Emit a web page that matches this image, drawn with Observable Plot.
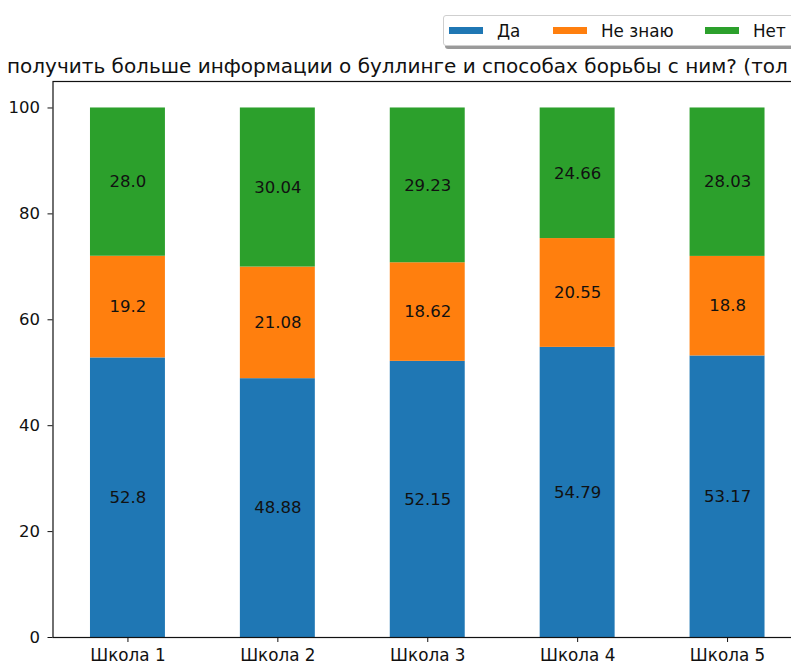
<!DOCTYPE html>
<html>
<head>
<meta charset="utf-8">
<script src="https://cdn.jsdelivr.net/npm/d3@7"></script>
<script src="https://cdn.jsdelivr.net/npm/@observablehq/plot@0.6"></script>
<style>
  html, body { margin: 0; padding: 0; background: #fff; overflow: hidden; }
  #wrap { position: relative; width: 791px; height: 664px; overflow: hidden; font-family: "DejaVu Sans", sans-serif; }
  #title { position: absolute; left: 7px; top: 54px; font-size: 20px; white-space: nowrap; color: #111; line-height: 24px; }
  #legend { position: absolute; left: 443px; top: 15px; width: 360px; height: 29px; border: 1px solid #cfcfcf; border-radius: 3px; background: #fff; box-shadow: 2px 3px 0 #9a9a9a; }
  .item { position: absolute; top: 0; height: 29px; display: flex; align-items: center; font-size: 16.8px; color: #111; }
  .sw { width: 34px; height: 7px; margin-right: 14px; }
  svg { overflow: hidden; }
</style>
</head>
<body>
<div id="wrap">
  <div id="chart"></div>
  <div id="title"></div>
  <div id="legend"></div>
</div>
<script>
const schools = ["Школа 1", "Школа 2", "Школа 3", "Школа 4", "Школа 5"];
const seriesNames = ["Да", "Не знаю", "Нет"];
const seriesColors = ["#1f77b4", "#ff7f0e", "#2ca02c"];
const valuesDa = [52.8, 48.88, 52.15, 54.79, 53.17];
const valuesNeZnayu = [19.2, 21.08, 18.62, 20.55, 18.8];
const valuesNet = [28.0, 30.04, 29.23, 24.66, 28.03];
const yTicks = [0, 20, 40, 60, 80, 100];
const titleText = "получить больше информации о буллинге и способах борьбы с ним? (тол";

const seriesValues = [valuesDa, valuesNeZnayu, valuesNet];
const data = [];
seriesNames.forEach((s, i) => {
  schools.forEach((sc, j) => data.push({school: sc, series: s, value: seriesValues[i][j]}));
});
const fmt = v => Number.isInteger(v) ? v.toFixed(1) : String(v);

const plot = Plot.plot({
  width: 791,
  height: 664,
  marginTop: 81,
  marginBottom: 27,
  marginLeft: 52.5,
  marginRight: -11,
  style: {fontFamily: "DejaVu Sans, sans-serif", fontSize: "16.5px", color: "#111", background: "transparent"},
  x: {domain: schools, paddingInner: 0.5, paddingOuter: 0.25, round: false, label: null},
  y: {domain: [0, 105], label: null},
  color: {domain: seriesNames, range: seriesColors},
  marks: [
    Plot.barY(data, Plot.stackY({x: "school", y: "value", z: "series", fill: "series", order: null})),
    Plot.text(data, Plot.stackY({x: "school", y: "value", z: "series", text: d => fmt(d.value), order: null, fill: "#111", fontSize: 16.5})),
    Plot.frame({stroke: "#111", strokeWidth: 1.2}),
    Plot.axisY({ticks: yTicks, tickSize: 5, tickPadding: 8, tickFormat: d => String(d), label: null, fontSize: 16.5, stroke: "#111"}),
    Plot.axisX({tickSize: 5, tickPadding: 7, label: null, fontSize: 16.8, stroke: "#111"})
  ]
});
document.getElementById("chart").appendChild(plot);
document.getElementById("title").textContent = titleText;

const legend = document.getElementById("legend");
const itemLefts = [5, 109, 261];
seriesNames.forEach((s, i) => {
  const it = document.createElement("div");
  it.className = "item";
  it.style.left = itemLefts[i] + "px";
  const sw = document.createElement("div");
  sw.className = "sw";
  sw.style.background = seriesColors[i];
  const lab = document.createElement("span");
  lab.textContent = s;
  it.appendChild(sw);
  it.appendChild(lab);
  legend.appendChild(it);
});
</script>
</body>
</html>
